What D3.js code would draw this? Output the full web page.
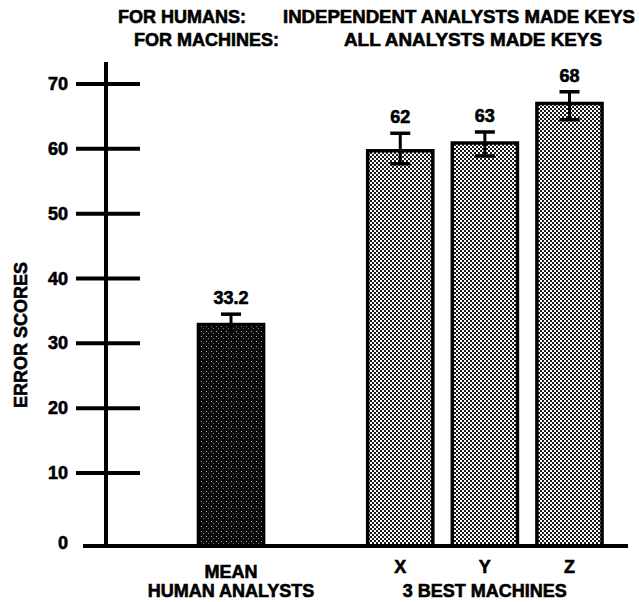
<!DOCTYPE html>
<html><head><meta charset="utf-8">
<script src="https://cdn.jsdelivr.net/npm/d3@7/dist/d3.min.js"></script>
<style>
body{margin:0;background:#fff}
text{font-family:"Liberation Sans",Arial,Helvetica,sans-serif;font-weight:bold;fill:#000;stroke:#000;stroke-width:0.6px}
</style>
</head><body>
<svg id="chart" width="639" height="602"></svg>
<script>
// ---- data ----
const categories = ["MEAN", "X", "Y", "Z"];
const barValues = [32.9, 59.7, 60.9, 67.0];
const errLow = [31.5, 57.7, 58.9, 64.5];
const errHigh = [34.5, 62.4, 62.6, 68.8];
const valueLabels = ["33.2", "62", "63", "68"];
const yTicks = [0, 10, 20, 30, 40, 50, 60, 70];
const titleLeft = ["FOR HUMANS:", "FOR MACHINES:"];
const titleRight = ["INDEPENDENT ANALYSTS MADE KEYS", "ALL ANALYSTS MADE KEYS"];
const groupLabels = [["MEAN", "HUMAN ANALYSTS"], ["3 BEST MACHINES"]];
const yLabel = "ERROR SCORES";

const svg = d3.select("#chart");
const FS = 18;

// patterns
const defs = svg.append("defs");
const pm = defs.append("pattern").attr("id","checker").attr("patternUnits","userSpaceOnUse")
  .attr("width",4).attr("height",4);
pm.append("rect").attr("width",4).attr("height",4).attr("fill","#1a1a1a");
pm.append("rect").attr("x",0).attr("y",0).attr("width",2).attr("height",2).attr("fill","#fff");
pm.append("rect").attr("x",2).attr("y",2).attr("width",2).attr("height",2).attr("fill","#fff");
const ph = defs.append("pattern").attr("id","dark").attr("patternUnits","userSpaceOnUse")
  .attr("width",5).attr("height",5);
ph.append("rect").attr("width",5).attr("height",5).attr("fill","#0a0a0a");
ph.append("rect").attr("x",1).attr("y",1).attr("width",1).attr("height",1).attr("fill","#bbb");
ph.append("rect").attr("x",3).attr("y",3).attr("width",1).attr("height",1).attr("fill","#777");

// scales
const slots = [categories[0], "_gap", ...categories.slice(1)];
const x = d3.scaleBand().domain(slots).range([188.7, 611.8]).paddingInner(0.23).paddingOuter(0.115);
const y = d3.scaleLinear().domain([0, 10, 70]).range([546, 473, 84]);
const axisX = 106;

// title
const titleY = [23, 46];
const leftX = [118, 134];
const rightStart = [283, 344];
const rightLen = [352, 258];
titleLeft.forEach((t,i)=>{
  svg.append("text").attr("x",leftX[i]).attr("y",titleY[i]).attr("font-size",FS).text(t);
  svg.append("text").attr("x",rightStart[i]).attr("y",titleY[i]).attr("font-size",FS)
    .attr("textLength",rightLen[i]).attr("lengthAdjust","spacingAndGlyphs").text(titleRight[i]);
});

// y axis
svg.append("line").attr("x1",axisX).attr("x2",axisX).attr("y1",62).attr("y2",y(0))
  .attr("stroke","#000").attr("stroke-width",4);
svg.selectAll(".tick").data(yTicks.filter(d=>d>0)).join("line")
  .attr("x1",76).attr("x2",140).attr("y1",d=>y(d)).attr("y2",d=>y(d))
  .attr("stroke","#000").attr("stroke-width",4);
svg.selectAll(".tl").data(yTicks).join("text")
  .attr("x",68).attr("y",d=>d===0? y(d)-3 : y(d)).attr("text-anchor","end")
  .attr("dominant-baseline","central").attr("font-size",FS).text(d=>d);
svg.append("text").attr("transform",`translate(21,335) rotate(-90)`)
  .attr("text-anchor","middle").attr("dominant-baseline","central").attr("font-size",FS).text(yLabel);

// bars
const data = categories.map((c,i)=>({c, v:barValues[i], lo:errLow[i], hi:errHigh[i], lab:valueLabels[i]}));
svg.selectAll(".bar").data(data).join("rect")
  .attr("x",d=>x(d.c)).attr("width",x.bandwidth())
  .attr("y",d=>y(d.v)).attr("height",d=>y(0)-y(d.v))
  .attr("fill",(d,i)=>i===0?"url(#dark)":"url(#checker)")
  .attr("stroke","#000").attr("stroke-width",3.5);

// baseline
svg.append("line").attr("x1",83).attr("x2",628).attr("y1",y(0)).attr("y2",y(0))
  .attr("stroke","#000").attr("stroke-width",4);

// error bars
const eb = svg.selectAll(".eb").data(data).join("g");
eb.append("line").attr("x1",d=>x(d.c)+x.bandwidth()/2).attr("x2",d=>x(d.c)+x.bandwidth()/2)
  .attr("y1",d=>y(d.lo)).attr("y2",d=>y(d.hi)).attr("stroke","#000").attr("stroke-width",3);
eb.append("line").attr("x1",d=>x(d.c)+x.bandwidth()/2-10).attr("x2",d=>x(d.c)+x.bandwidth()/2+10)
  .attr("y1",d=>y(d.hi)).attr("y2",d=>y(d.hi)).attr("stroke","#000").attr("stroke-width",3.5);
eb.filter((d,i)=>i>0).append("line").attr("x1",d=>x(d.c)+x.bandwidth()/2-10).attr("x2",d=>x(d.c)+x.bandwidth()/2+10)
  .attr("y1",d=>y(d.lo)).attr("y2",d=>y(d.lo)).attr("stroke","#000").attr("stroke-width",3.5);
eb.append("text").attr("x",d=>x(d.c)+x.bandwidth()/2).attr("y",d=>y(d.hi)-10)
  .attr("text-anchor","middle").attr("font-size",FS).text(d=>d.lab);

// category labels
svg.selectAll(".cl").data(categories.slice(1)).join("text")
  .attr("x",d=>x(d)+x.bandwidth()/2).attr("y",573).attr("text-anchor","middle")
  .attr("font-size",FS).text(d=>d);
const hx = x(categories[0]) + x.bandwidth()/2;
svg.append("text").attr("x",hx).attr("y",578).attr("text-anchor","middle").attr("font-size",FS).text(groupLabels[0][0]);
svg.append("text").attr("x",hx).attr("y",597).attr("text-anchor","middle").attr("font-size",FS).text(groupLabels[0][1]);
const mx = (x("X") + x("Z") + x.bandwidth())/2;
svg.append("text").attr("x",mx).attr("y",597).attr("text-anchor","middle").attr("font-size",FS).text(groupLabels[1][0]);
</script>
</body></html>
